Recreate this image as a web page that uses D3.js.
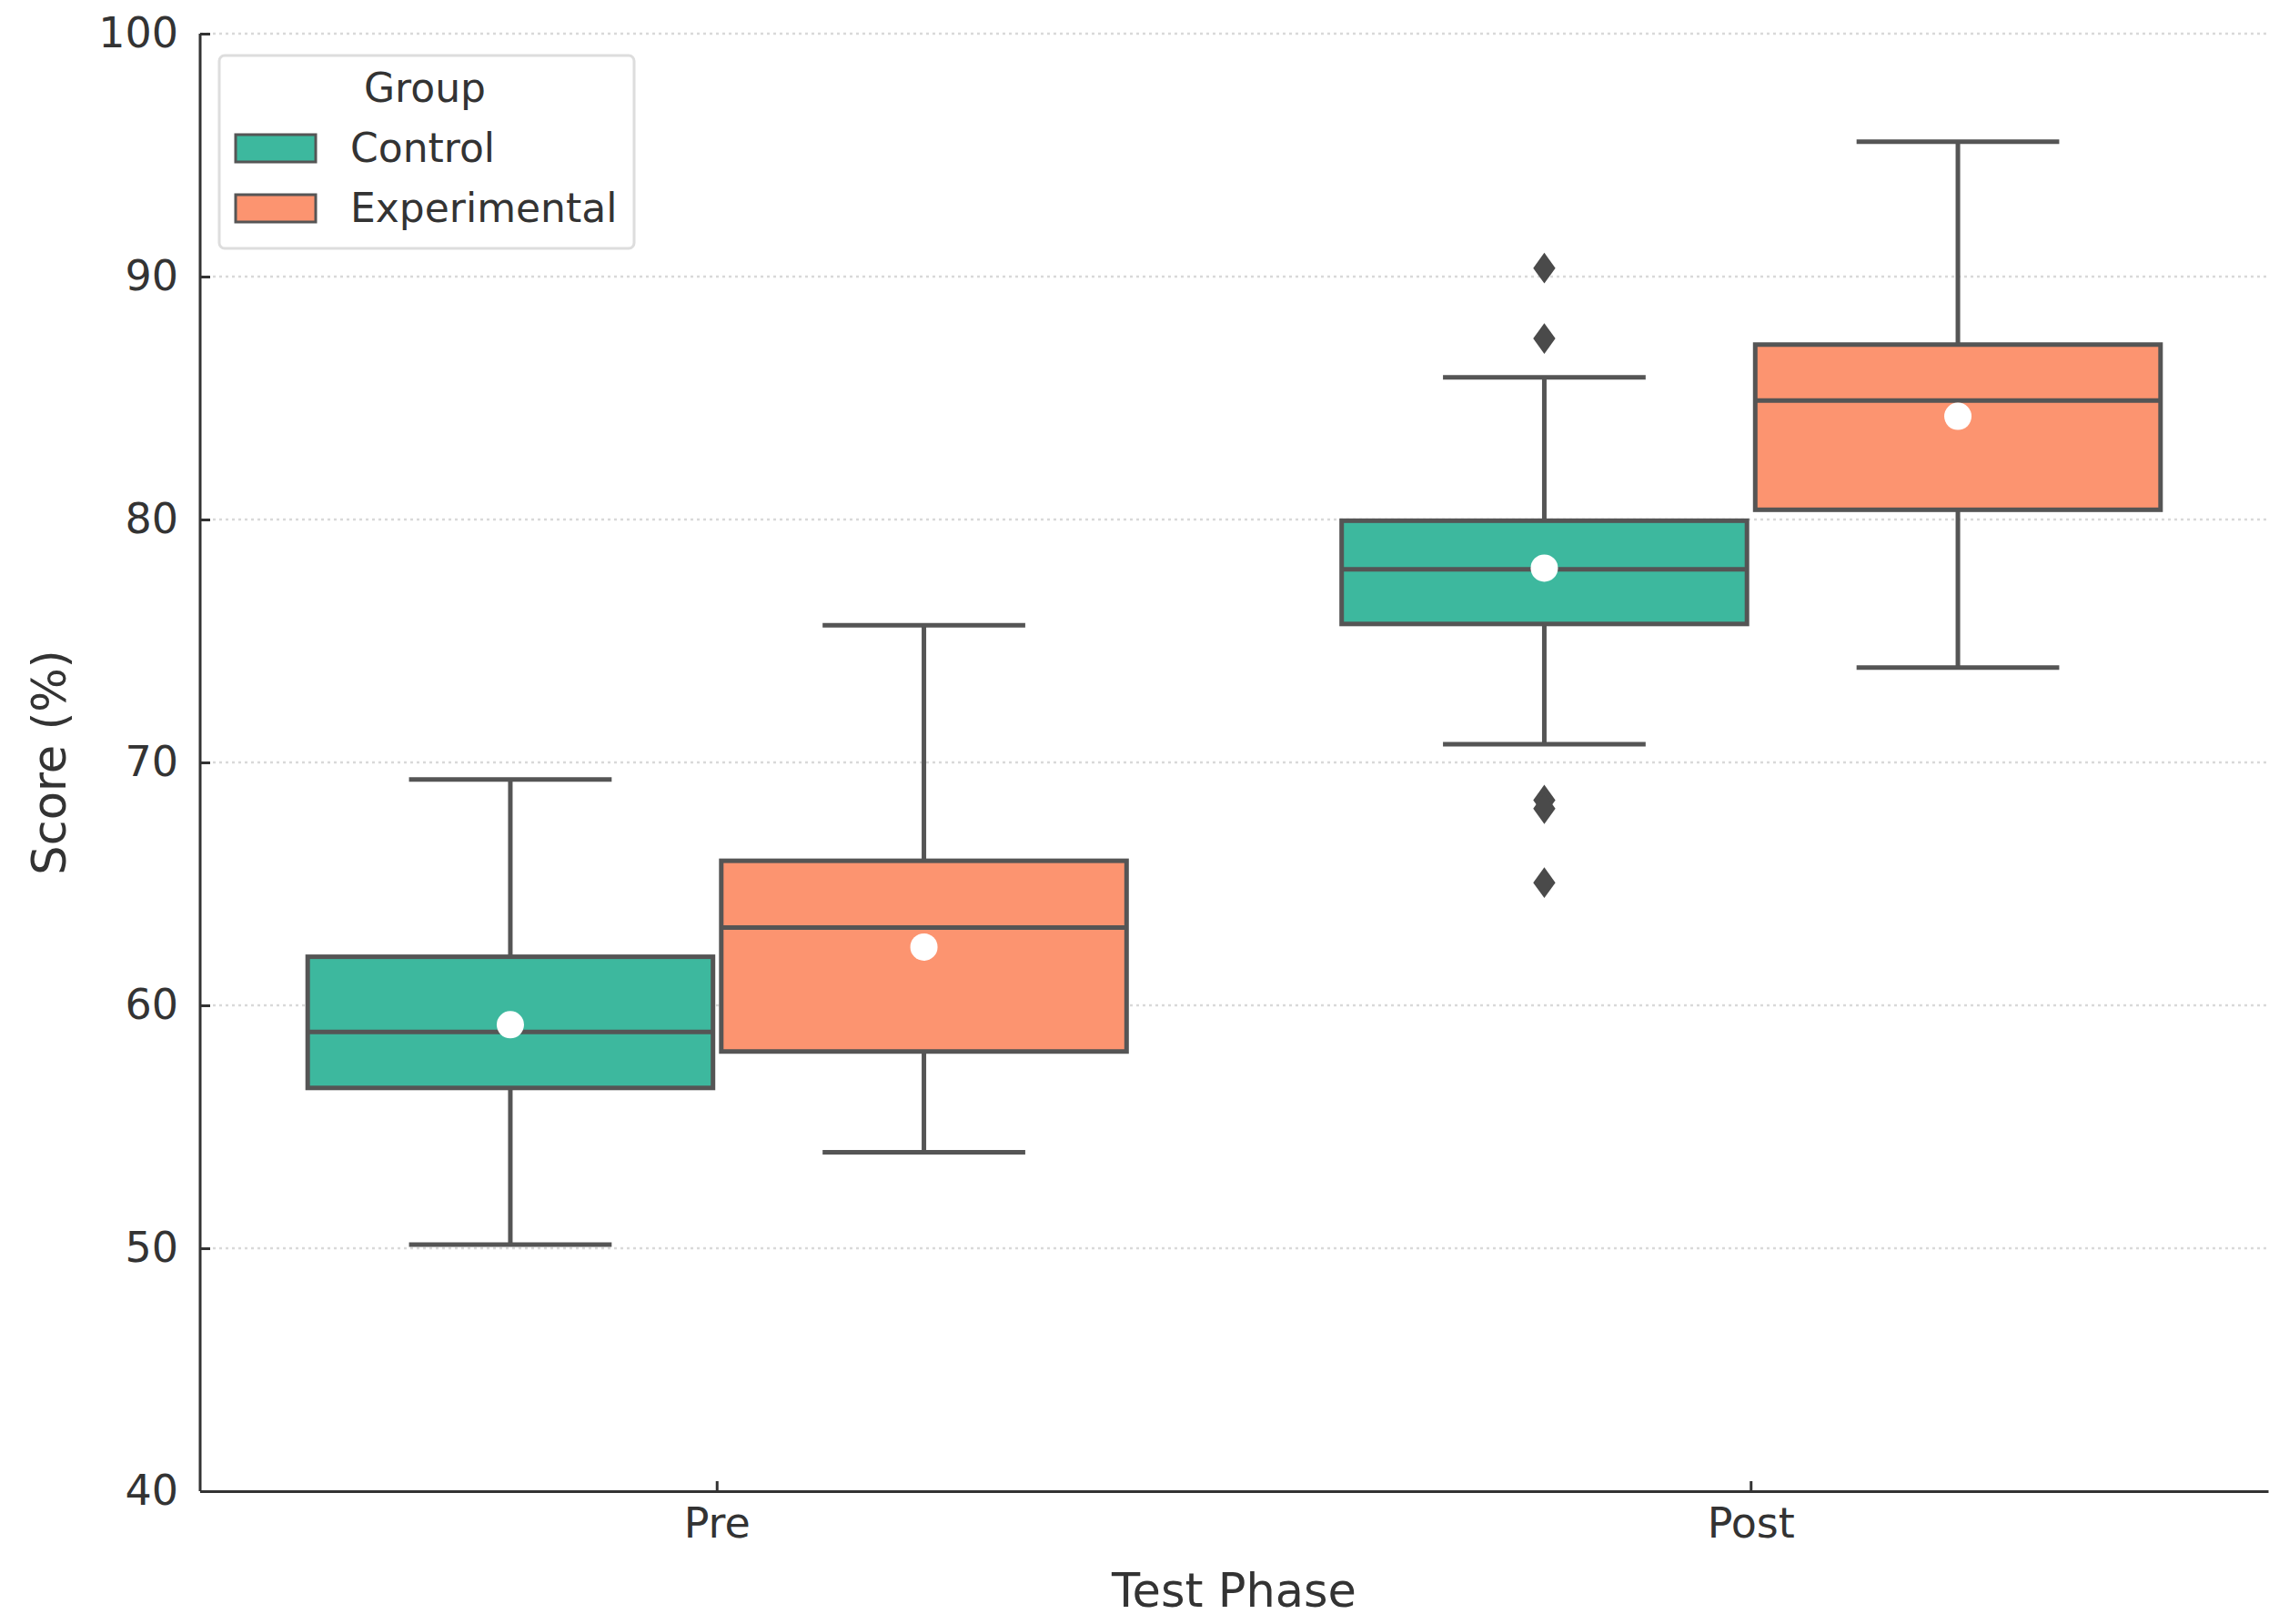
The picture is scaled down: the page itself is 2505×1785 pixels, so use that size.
<!DOCTYPE html>
<meta charset="utf-8">
<style>
body { margin: 0; background: #fff; }
text { font-family: "DejaVu Sans", sans-serif; fill: #333; }
.axis text { font-size: 46px; }
.axis path, .axis line { stroke: #333; stroke-width: 3; }
.grid line { stroke: #d9d9d9; stroke-width: 2.5; stroke-dasharray: 3,4; }
.label { font-size: 51px; }
.legend text { font-size: 44px; }
</style>
<body>
<div id="chart"></div>
<script src="https://cdn.jsdelivr.net/npm/d3@7"></script>
<script>
// values
var phases = ["Pre", "Post"];
var groups = ["Control", "Experimental"];
var whiskLow  = [[50.15, 53.95], [70.75, 73.9]];
var q1        = [[56.6, 58.1], [75.7, 80.4]];
var medians   = [[58.9, 63.2], [77.95, 84.9]];
var q3        = [[62.0, 65.95], [79.95, 87.2]];
var whiskHigh = [[69.3, 75.65], [85.85, 95.55]];
var means     = [[59.2, 62.4], [78.0, 84.25]];
var outliers  = [[[], []], [[90.35, 87.45, 68.45, 68.1, 65.05], []]];
var yTicks = [40, 50, 60, 70, 80, 90, 100];

var W = 2505, H = 1785;
var margin = {top: 37, right: 12, bottom: 146, left: 220};
var colors = ["#3db89e", "#fc9470"];
var edge = "#555";

var svg = d3.select("#chart").append("svg")
  .attr("width", W).attr("height", H);

var x = d3.scaleBand().domain(phases).range([margin.left, W - margin.right]);
var xg = d3.scaleBand().domain(groups).range([x.bandwidth() * 0.1, x.bandwidth() * 0.9]);
var y = d3.scaleLinear().domain([40, 100]).range([H - margin.bottom, margin.top]);

// grid
svg.append("g").attr("class", "grid")
  .selectAll("line").data(yTicks.filter(function(d) { return d > 40; }))
  .enter().append("line")
  .attr("x1", margin.left).attr("x2", W - margin.right)
  .attr("y1", function(d) { return y(d); }).attr("y2", function(d) { return y(d); });

// boxes
var boxW = xg.bandwidth() * 0.98;
var items = [];
phases.forEach(function(p, i) {
  groups.forEach(function(g, j) {
    items.push({phase: p, group: g, i: i, j: j,
      cx: x(p) + xg(g) + xg.bandwidth() / 2});
  });
});

var box = svg.append("g").selectAll("g").data(items).enter().append("g");

box.append("line")
  .attr("x1", function(d) { return d.cx; }).attr("x2", function(d) { return d.cx; })
  .attr("y1", function(d) { return y(whiskLow[d.i][d.j]); })
  .attr("y2", function(d) { return y(q1[d.i][d.j]); })
  .attr("stroke", edge).attr("stroke-width", 5);
box.append("line")
  .attr("x1", function(d) { return d.cx; }).attr("x2", function(d) { return d.cx; })
  .attr("y1", function(d) { return y(q3[d.i][d.j]); })
  .attr("y2", function(d) { return y(whiskHigh[d.i][d.j]); })
  .attr("stroke", edge).attr("stroke-width", 5);
box.selectAll(".cap").data(function(d) {
    return [{cx: d.cx, v: whiskLow[d.i][d.j]}, {cx: d.cx, v: whiskHigh[d.i][d.j]}];
  }).enter().append("line")
  .attr("x1", function(d) { return d.cx - boxW / 4; })
  .attr("x2", function(d) { return d.cx + boxW / 4; })
  .attr("y1", function(d) { return y(d.v); }).attr("y2", function(d) { return y(d.v); })
  .attr("stroke", edge).attr("stroke-width", 5);

box.append("rect")
  .attr("x", function(d) { return d.cx - boxW / 2; })
  .attr("width", boxW)
  .attr("y", function(d) { return y(q3[d.i][d.j]); })
  .attr("height", function(d) { return y(q1[d.i][d.j]) - y(q3[d.i][d.j]); })
  .attr("fill", function(d) { return colors[d.j]; })
  .attr("stroke", edge).attr("stroke-width", 5);

box.append("line")
  .attr("x1", function(d) { return d.cx - boxW / 2; })
  .attr("x2", function(d) { return d.cx + boxW / 2; })
  .attr("y1", function(d) { return y(medians[d.i][d.j]); })
  .attr("y2", function(d) { return y(medians[d.i][d.j]); })
  .attr("stroke", edge).attr("stroke-width", 5);

box.append("circle")
  .attr("cx", function(d) { return d.cx; })
  .attr("cy", function(d) { return y(means[d.i][d.j]); })
  .attr("r", 15).attr("fill", "#fff");

var diamond = d3.symbol().type(d3.symbolDiamond).size(330);
box.selectAll(".flier").data(function(d) {
    return outliers[d.i][d.j].map(function(v) { return {cx: d.cx, v: v}; });
  }).enter().append("path")
  .attr("d", diamond)
  .attr("transform", function(d) { return "translate(" + d.cx + "," + y(d.v) + ") scale(1.25,1)"; })
  .attr("fill", "#4a4a4a");

// axes
svg.append("g").attr("class", "axis")
  .attr("transform", "translate(" + margin.left + ",0)")
  .call(d3.axisLeft(y).tickValues(yTicks).tickSizeInner(-11).tickSizeOuter(0).tickPadding(24))
  .select(".domain").attr("d", "M0," + y(40) + "V" + y(100));

svg.append("g").attr("class", "axis")
  .attr("transform", "translate(0," + y(40) + ")")
  .call(d3.axisBottom(x).tickSizeInner(-11).tickSizeOuter(0).tickPadding(18));

svg.selectAll(".axis text").attr("fill", "#333").style("fill", "#333");

svg.append("text").attr("class", "label")
  .attr("x", (margin.left + W - margin.right) / 2).attr("y", 1766)
  .attr("text-anchor", "middle").text("Test Phase");

svg.append("text").attr("class", "label")
  .attr("transform", "translate(72," + (y(40) + y(100)) / 2 + ") rotate(-90)")
  .attr("text-anchor", "middle").text("Score (%)");

// legend
var lg = svg.append("g").attr("class", "legend");
lg.append("rect")
  .attr("x", 241).attr("y", 61).attr("width", 456).attr("height", 212)
  .attr("rx", 6).attr("fill", "#fff").attr("fill-opacity", 0.8)
  .attr("stroke", "#ddd").attr("stroke-width", 3);
lg.append("text").attr("x", 467).attr("y", 112)
  .attr("text-anchor", "middle").text("Group");
var li = lg.selectAll(".item").data(groups).enter().append("g")
  .attr("transform", function(d, k) { return "translate(0," + (k * 66) + ")"; });
li.append("rect")
  .attr("x", 259).attr("y", 148).attr("width", 88).attr("height", 30)
  .attr("fill", function(d, k) { return colors[k]; })
  .attr("stroke", edge).attr("stroke-width", 3);
li.append("text").attr("x", 385).attr("y", 178).text(function(d) { return d; });
</script>
</body>
